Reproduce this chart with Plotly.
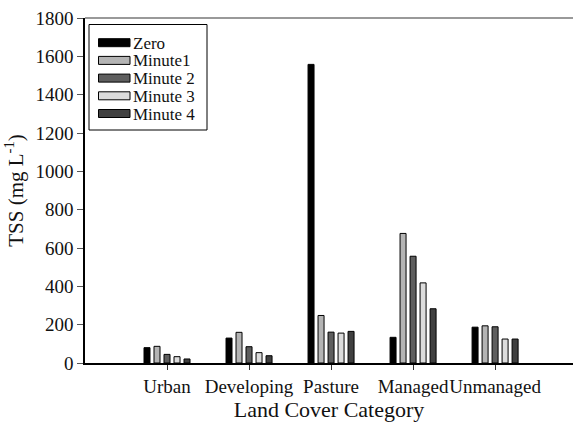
import plotly.graph_objects as go

# Total suspended solids by land cover category and sampling time
categories = ["Urban", "Developing", "Pasture", "Managed", "Unmanaged"]
series_names = ["Zero", "Minute1", "Minute 2", "Minute 3", "Minute 4"]
zero = [80, 130, 1558, 134, 187]
minute1 = [87, 160, 248, 676, 194]
minute2 = [45, 85, 161, 557, 189]
minute3 = [33, 54, 156, 418, 125]
minute4 = [21, 38, 165, 283, 125]
series_colors = ["#000000", "#b4b4b4", "#5e5e5e", "#dcdcdc", "#404040"]

y_ticks = [0, 200, 400, 600, 800, 1000, 1200, 1400, 1600, 1800]

FONT = "Liberation Serif"
W, H = 574, 422
M_L, M_R, M_T, M_B = 85, 1, 18, 59

fig = go.Figure()
for name, vals, col in zip(series_names, [zero, minute1, minute2, minute3, minute4], series_colors):
    fig.add_trace(go.Bar(
        x=categories, y=vals, name=name,
        marker=dict(color=col, line=dict(color="#000000", width=1)),
        showlegend=False,
    ))

# Boxed legend built from the series names and colours
plot_w = W - M_L - M_R
plot_h = H - M_T - M_B


def px_x(px):
    return (px - M_L) / plot_w


def px_y(py):
    return (H - M_B - py) / plot_h


shapes = [
    # legend frame
    dict(type="rect", xref="paper", yref="paper",
         x0=px_x(89), x1=px_x(207), y0=px_y(130), y1=px_y(24.5),
         line=dict(color="#000000", width=1), fillcolor="white"),
    # top frame line
    dict(type="line", xref="paper", yref="paper", x0=0, x1=1, y0=1, y1=1,
         line=dict(color="#777777", width=1.5)),
]
annotations = []
row0, row_step = 42.7, 17.7
for i, (name, col) in enumerate(zip(series_names, series_colors)):
    cy = row0 + i * row_step
    shapes.append(dict(type="rect", xref="paper", yref="paper",
                       x0=px_x(98.5), x1=px_x(130), y0=px_y(cy + 4), y1=px_y(cy - 4),
                       line=dict(color="#000000", width=1), fillcolor=col))
    annotations.append(dict(xref="paper", yref="paper", x=px_x(131.5), y=px_y(cy),
                            xanchor="left", yanchor="middle", text=name, showarrow=False,
                            height=16, valign="middle", borderpad=0,
                            font=dict(family=FONT, size=17, color="#111111")))

fig.update_layout(
    width=W, height=H,
    margin=dict(l=M_L, r=M_R, t=M_T, b=M_B),
    paper_bgcolor="white", plot_bgcolor="white",
    barmode="group", bargap=0.39, bargroupgap=0.4,
    font=dict(family=FONT, color="#111111"),
    shapes=shapes, annotations=annotations,
    showlegend=False,
)
fig.update_xaxes(
    type="category", range=[-1, 4.95], automargin=False, tickangle=0,
    showline=True, linecolor="#000000", linewidth=1.5,
    ticks="outside", ticklen=5, tickcolor="#333333",
    tickfont=dict(family=FONT, size=19, color="#111111"),
    showgrid=False, zeroline=False,
    title=dict(text="Land Cover Category", font=dict(family=FONT, size=22, color="#111111"),
               standoff=3),
)
fig.update_yaxes(
    range=[0, 1800], tickvals=y_ticks, automargin=False,
    showline=True, linecolor="#000000", linewidth=1.5,
    ticks="outside", ticklen=6, tickcolor="#555555",
    tickfont=dict(family=FONT, size=19, color="#111111"),
    showgrid=False, zeroline=False,
    title=dict(text="TSS (mg L<sup>-1</sup>)", font=dict(family=FONT, size=21, color="#111111"),
               standoff=6),
)

fig.write_html("out.html")
